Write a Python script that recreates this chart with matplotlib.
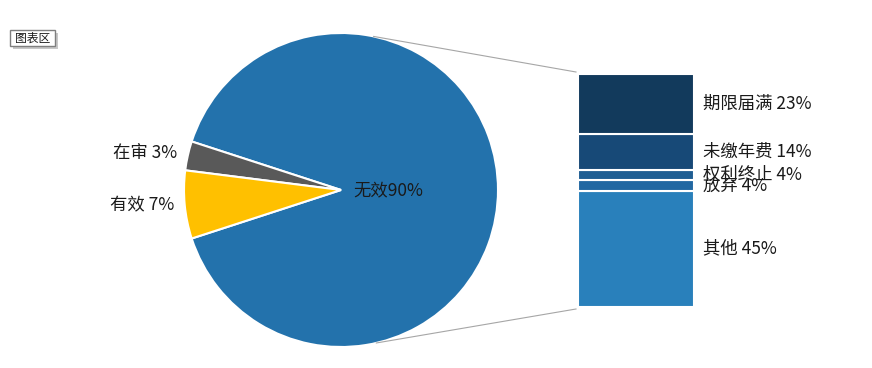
import matplotlib
matplotlib.use("Agg")
import matplotlib.pyplot as plt
import numpy as np
from matplotlib.patches import Rectangle

plt.rcParams['font.family'] = ['Noto Sans CJK SC', 'DejaVu Sans']

# Data
pie_labels = ['无效', '在审', '有效']
pie_values = [90, 3, 7]
pie_colors = ['#2372AC', '#595959', '#FFC000']

bar_labels = ['其他', '放弃', '权利终止', '未缴年费', '期限届满']
bar_values = [45, 4, 4, 14, 23]
bar_colors = ['#2980BB', '#2268A2', '#1F5E93', '#174977', '#123A5C']

W, H = 872, 368
fig = plt.figure(figsize=(W / 100, H / 100), dpi=100)
fig.patch.set_facecolor('white')

# Full-figure pixel axes
ax = fig.add_axes([0, 0, 1, 1])

cx, cy, r = 341, H - 190, 157
total = sum(pie_values)
start = -pie_values[0] / total * 360 / 2
wedges, texts = ax.pie(pie_values, colors=pie_colors, startangle=start,
                       center=(cx, cy), radius=r, counterclock=True,
                       labels=[f'{pie_labels[0]}{pie_values[0]}%',
                               f'{pie_labels[1]} {pie_values[1]}%',
                               f'{pie_labels[2]} {pie_values[2]}%'],
                       labeldistance=1.07,
                       wedgeprops=dict(edgecolor='white', linewidth=1.5),
                       textprops=dict(fontsize=12.5, color='#1A1A1A'),
                       frame=True)
ax.set_xlim(0, W)
ax.set_ylim(0, H)
ax.set_aspect('equal')
ax.axis('off')
texts[0].set_position((cx + 0.3 * r, cy))
texts[0].set_horizontalalignment('center')
texts[0].set_verticalalignment('center')
for t in texts[1:]:
    t.set_horizontalalignment('right')
    t.set_verticalalignment('center')

# Bar axes
bx0, bx1, by0, by1 = 578, 694, 74, 307
bax = fig.add_axes([bx0 / W, 1 - by1 / H, (bx1 - bx0) / W, (by1 - by0) / H])
bottom = 0
for lab, v, c in zip(bar_labels, bar_values, bar_colors):
    bax.bar(0, v, bottom=bottom, width=1.0, color=c, edgecolor='white', linewidth=1.5)
    bax.text(0.5 + 9 / (bx1 - bx0), bottom + v / 2, f'{lab} {v}%', fontsize=12.5,
             color='#1A1A1A', ha='left', va='center', clip_on=False)
    bottom += v
bax.set_xlim(-0.5, 0.5)
bax.set_ylim(0, sum(bar_values))
bax.axis('off')

# Connector lines
a_top = np.deg2rad(78)
a_bot = np.deg2rad(-77)
ax.plot([cx + r * np.cos(a_top), bx0 - 2], [cy + r * np.sin(a_top), H - by0 + 2],
        color='#A6A6A6', lw=0.8)
ax.plot([cx + r * np.cos(a_bot), bx0 - 2], [cy + r * np.sin(a_bot), H - by1 - 2],
        color='#A6A6A6', lw=0.8)

# "图表区" tag
ax.add_patch(Rectangle((13, H - 49), 45, 16, facecolor='#C8C8C8', edgecolor='none'))
ax.add_patch(Rectangle((10, H - 46), 45, 16, facecolor='white', edgecolor='#7F7F7F', lw=1))
ax.text(32.5, H - 38, '图表区', fontsize=8.5, ha='center', va='center', color='#1A1A1A')

fig.savefig('out.png', dpi=100, facecolor='white')
